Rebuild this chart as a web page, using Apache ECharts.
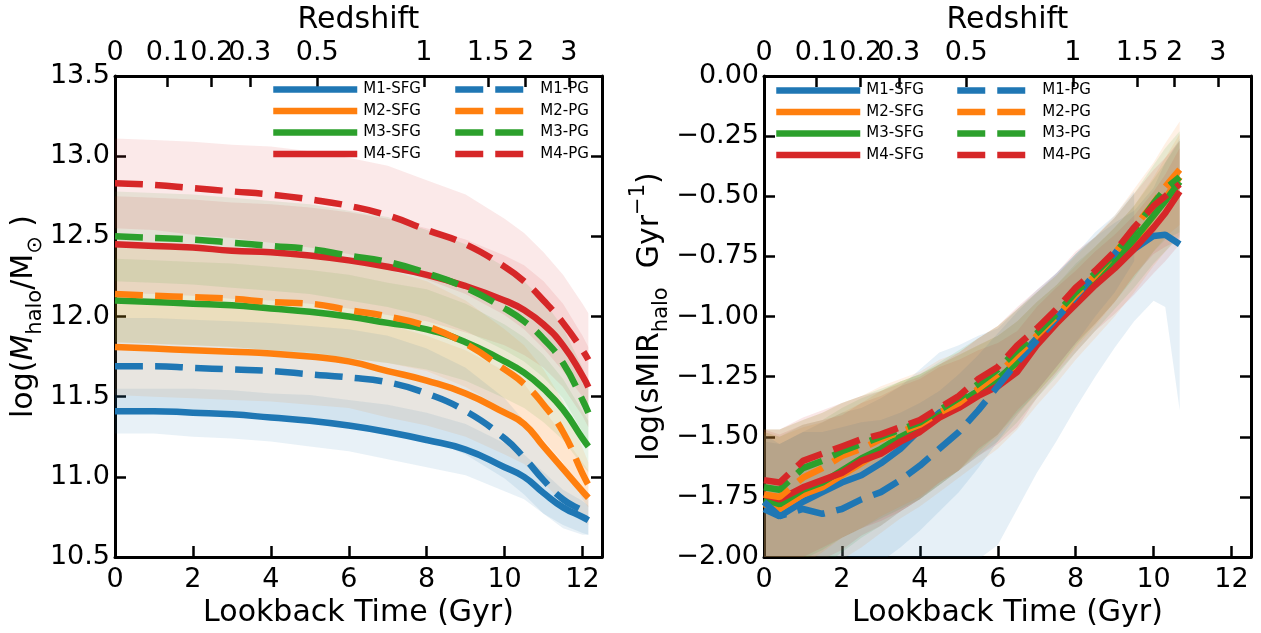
<!DOCTYPE html>
<html>
<head>
<meta charset="utf-8">
<script src="https://cdn.jsdelivr.net/npm/echarts@6/dist/echarts.min.js"></script>
<style>
  html, body { margin: 0; padding: 0; background: #fff; }
  #main { width: 1261px; height: 633px; }
</style>
</head>
<body>
<div id="main"></div>
<script>
// ---- shared labels and axes ----
const COLORS = ['#1f77b4', '#ff7f0e', '#2ca02c', '#d62728'];
const NAMES_SFG = ['M1-SFG', 'M2-SFG', 'M3-SFG', 'M4-SFG'];
const NAMES_PG = ['M1-PG', 'M2-PG', 'M3-PG', 'M4-PG'];

const TIME_TICKS = [0, 2, 4, 6, 8, 10, 12];                 // lookback time (Gyr)
const Z_LABELS = ['0', '0.1', '0.2', '0.3', '0.5', '1', '1.5', '2', '3'];
const Z_TIMES = [0, 1.34, 2.48, 3.46, 5.19, 7.93, 9.58, 10.54, 11.65]; // lookback time of each redshift

// ---- left panel: halo mass history ----
const T_MASS = [0, 1, 2, 3, 4, 5, 6, 7, 8, 9, 10, 10.5, 11, 11.5, 12, 12.15];
const mass_M1_SFG = [11.41, 11.41, 11.40, 11.39, 11.37, 11.35, 11.32, 11.28, 11.23, 11.17, 11.06, 11.00, 10.90, 10.81, 10.75, 10.73];
const mass_M2_SFG = [11.81, 11.80, 11.79, 11.78, 11.77, 11.75, 11.72, 11.66, 11.60, 11.52, 11.40, 11.33, 11.19, 11.05, 10.91, 10.87];
const mass_M3_SFG = [12.10, 12.09, 12.08, 12.07, 12.05, 12.03, 12.00, 11.96, 11.92, 11.84, 11.72, 11.65, 11.55, 11.42, 11.24, 11.19];
const mass_M4_SFG = [12.45, 12.44, 12.43, 12.41, 12.40, 12.38, 12.35, 12.31, 12.26, 12.19, 12.10, 12.04, 11.95, 11.82, 11.63, 11.56];
const mass_M1_PG = [11.69, 11.69, 11.68, 11.67, 11.66, 11.64, 11.62, 11.59, 11.52, 11.41, 11.24, 11.12, 10.98, 10.86, 10.79, 10.77];
const mass_M2_PG = [12.14, 12.13, 12.12, 12.11, 12.09, 12.08, 12.04, 12.00, 11.94, 11.83, 11.67, 11.58, 11.45, 11.28, 11.02, 10.95];
const mass_M3_PG = [12.50, 12.49, 12.48, 12.46, 12.44, 12.42, 12.38, 12.34, 12.27, 12.18, 12.05, 11.97, 11.86, 11.71, 11.48, 11.40];
const mass_M4_PG = [12.83, 12.82, 12.80, 12.78, 12.76, 12.73, 12.69, 12.63, 12.54, 12.45, 12.31, 12.22, 12.10, 11.96, 11.79, 11.73];

// 1-sigma scatter of each mass track
const massErr_M1_SFG = [0.14, 0.14, 0.15, 0.15, 0.15, 0.16, 0.16, 0.17, 0.17, 0.16, 0.15, 0.14, 0.13, 0.11, 0.10, 0.09];
const massErr_M2_SFG = [0.30, 0.30, 0.30, 0.30, 0.30, 0.30, 0.29, 0.29, 0.28, 0.27, 0.26, 0.25, 0.23, 0.21, 0.18, 0.17];
const massErr_M3_SFG = [0.26, 0.26, 0.26, 0.26, 0.26, 0.26, 0.26, 0.25, 0.25, 0.24, 0.23, 0.22, 0.21, 0.19, 0.17, 0.16];
const massErr_M4_SFG = [0.30, 0.30, 0.30, 0.30, 0.30, 0.30, 0.30, 0.30, 0.29, 0.29, 0.28, 0.28, 0.27, 0.26, 0.25, 0.25];
const massErr_M1_PG = [0.30, 0.30, 0.30, 0.30, 0.30, 0.30, 0.30, 0.29, 0.28, 0.27, 0.25, 0.23, 0.21, 0.18, 0.15, 0.13];
const massErr_M2_PG = [0.30, 0.30, 0.30, 0.30, 0.30, 0.30, 0.30, 0.29, 0.28, 0.27, 0.25, 0.24, 0.22, 0.19, 0.16, 0.14];
const massErr_M3_PG = [0.28, 0.28, 0.28, 0.28, 0.28, 0.28, 0.28, 0.28, 0.27, 0.27, 0.26, 0.25, 0.24, 0.22, 0.20, 0.19];
const massErr_M4_PG = [0.28, 0.28, 0.29, 0.29, 0.30, 0.30, 0.30, 0.31, 0.31, 0.31, 0.30, 0.30, 0.30, 0.30, 0.29, 0.29];

// ---- right panel: specific mass increase rate ----
const T_SMIR = [0, 0.4, 1, 1.5, 2, 2.5, 3, 3.5, 4, 4.5, 5, 5.5, 6, 6.5, 7, 7.5, 8, 8.5, 9, 9.5, 10, 10.3, 10.67];
const smir_M1_SFG = [-1.80, -1.83, -1.77, -1.73, -1.69, -1.66, -1.61, -1.55, -1.47, -1.40, -1.36, -1.31, -1.27, -1.18, -1.09, -1.01, -0.92, -0.85, -0.78, -0.72, -0.665, -0.66, -0.70];
const smir_M2_SFG = [-1.78, -1.80, -1.74, -1.71, -1.66, -1.61, -1.56, -1.51, -1.47, -1.42, -1.37, -1.32, -1.27, -1.20, -1.11, -1.03, -0.94, -0.86, -0.78, -0.69, -0.58, -0.51, -0.42];
const smir_M3_SFG = [-1.76, -1.78, -1.72, -1.69, -1.64, -1.59, -1.55, -1.50, -1.46, -1.41, -1.36, -1.31, -1.26, -1.19, -1.10, -1.02, -0.93, -0.85, -0.77, -0.68, -0.58, -0.52, -0.44];
const smir_M4_SFG = [-1.74, -1.76, -1.71, -1.68, -1.65, -1.60, -1.57, -1.52, -1.48, -1.42, -1.38, -1.33, -1.29, -1.23, -1.12, -1.03, -0.95, -0.87, -0.80, -0.72, -0.63, -0.57, -0.48];
const smir_M1_PG = [-1.77, -1.83, -1.80, -1.82, -1.80, -1.76, -1.73, -1.68, -1.62, -1.55, -1.48, -1.39, -1.29, -1.19, -1.10, -1.01, -0.92, -0.82, -0.74, -0.63];
const smir_M2_PG = [-1.74, -1.75, -1.67, -1.63, -1.58, -1.55, -1.51, -1.48, -1.45, -1.40, -1.36, -1.30, -1.24, -1.16, -1.08, -1.00, -0.91, -0.83, -0.74, -0.63, -0.53, -0.46, -0.39];
const smir_M3_PG = [-1.71, -1.72, -1.63, -1.60, -1.56, -1.53, -1.50, -1.47, -1.44, -1.39, -1.34, -1.28, -1.22, -1.14, -1.07, -0.99, -0.90, -0.82, -0.74, -0.64, -0.53, -0.47, -0.42];
const smir_M4_PG = [-1.68, -1.69, -1.60, -1.57, -1.54, -1.51, -1.49, -1.46, -1.43, -1.38, -1.33, -1.26, -1.21, -1.12, -1.05, -0.97, -0.88, -0.81, -0.73, -0.63, -0.54, -0.50, -0.45];

// scatter below each rate track
const smirLo_M1_SFG = [0.40, 0.42, 0.45, 0.50, 0.55, 0.58, 0.60, 0.63, 0.66, 0.69, 0.70, 0.70, 0.68, 0.62, 0.56, 0.51, 0.46, 0.40, 0.35, 0.30, 0.27, 0.30, 0.69];
const smirLo_M2_SFG = [0.38, 0.38, 0.37, 0.36, 0.35, 0.35, 0.34, 0.33, 0.32, 0.31, 0.30, 0.29, 0.28, 0.27, 0.26, 0.25, 0.24, 0.23, 0.22, 0.21, 0.21, 0.22, 0.24];
const smirLo_M3_SFG = [0.36, 0.36, 0.36, 0.35, 0.34, 0.33, 0.32, 0.31, 0.30, 0.29, 0.28, 0.27, 0.26, 0.25, 0.24, 0.23, 0.22, 0.21, 0.20, 0.20, 0.20, 0.21, 0.23];
const smirLo_M4_SFG = [0.35, 0.35, 0.34, 0.33, 0.32, 0.31, 0.30, 0.29, 0.28, 0.27, 0.26, 0.25, 0.24, 0.23, 0.22, 0.21, 0.20, 0.19, 0.19, 0.19, 0.19, 0.20, 0.22];
const smirLo_M1_PG = [0.30, 0.30, 0.30, 0.30, 0.30, 0.29, 0.29, 0.28, 0.27, 0.26, 0.25, 0.24, 0.23, 0.22, 0.21, 0.20, 0.19, 0.18, 0.16, 0.14];
const smirLo_M2_PG = [0.38, 0.38, 0.36, 0.35, 0.34, 0.33, 0.32, 0.31, 0.30, 0.29, 0.28, 0.27, 0.26, 0.25, 0.24, 0.23, 0.22, 0.21, 0.20, 0.20, 0.20, 0.21, 0.23];
const smirLo_M3_PG = [0.40, 0.40, 0.38, 0.37, 0.36, 0.35, 0.34, 0.33, 0.32, 0.31, 0.30, 0.28, 0.27, 0.26, 0.25, 0.24, 0.22, 0.21, 0.20, 0.20, 0.20, 0.21, 0.23];
const smirLo_M4_PG = [0.42, 0.42, 0.40, 0.39, 0.38, 0.37, 0.36, 0.35, 0.33, 0.32, 0.31, 0.29, 0.28, 0.27, 0.26, 0.24, 0.23, 0.22, 0.21, 0.20, 0.20, 0.21, 0.23];

// scatter above each rate track
const smirHi_M1_SFG = [0.28, 0.30, 0.29, 0.29, 0.29, 0.28, 0.27, 0.26, 0.25, 0.25, 0.24, 0.23, 0.22, 0.21, 0.20, 0.19, 0.18, 0.18, 0.17, 0.16, 0.20, 0.30, 0.44];
const smirHi_M2_SFG = [0.30, 0.30, 0.28, 0.27, 0.26, 0.25, 0.25, 0.24, 0.23, 0.22, 0.21, 0.20, 0.19, 0.18, 0.17, 0.16, 0.15, 0.15, 0.15, 0.15, 0.16, 0.17, 0.18];
const smirHi_M3_SFG = [0.28, 0.28, 0.27, 0.26, 0.26, 0.25, 0.24, 0.23, 0.22, 0.21, 0.20, 0.19, 0.18, 0.17, 0.16, 0.15, 0.15, 0.14, 0.14, 0.14, 0.15, 0.16, 0.17];
const smirHi_M4_SFG = [0.27, 0.27, 0.26, 0.25, 0.24, 0.24, 0.24, 0.23, 0.22, 0.21, 0.20, 0.19, 0.18, 0.17, 0.16, 0.15, 0.14, 0.14, 0.14, 0.14, 0.15, 0.16, 0.18];
const smirHi_M1_PG = [0.28, 0.30, 0.32, 0.34, 0.34, 0.32, 0.30, 0.28, 0.26, 0.24, 0.24, 0.23, 0.22, 0.21, 0.20, 0.19, 0.18, 0.17, 0.16, 0.15];
const smirHi_M2_PG = [0.27, 0.28, 0.24, 0.23, 0.22, 0.22, 0.22, 0.22, 0.22, 0.22, 0.21, 0.21, 0.20, 0.19, 0.18, 0.17, 0.16, 0.16, 0.16, 0.16, 0.17, 0.18, 0.20];
const smirHi_M3_PG = [0.24, 0.25, 0.20, 0.20, 0.20, 0.20, 0.20, 0.20, 0.20, 0.20, 0.20, 0.19, 0.18, 0.17, 0.17, 0.16, 0.16, 0.15, 0.15, 0.15, 0.16, 0.17, 0.19];
const smirHi_M4_PG = [0.21, 0.22, 0.18, 0.18, 0.18, 0.18, 0.18, 0.18, 0.18, 0.18, 0.18, 0.17, 0.17, 0.16, 0.16, 0.15, 0.15, 0.14, 0.14, 0.14, 0.15, 0.16, 0.18];

// ---- building blocks ----
const FONT = "'DejaVu Sans', sans-serif";
const DASH = [28, 12];
const LINE_W = 6.5;

function pairs(T, v) { return v.map((y, i) => [T[i], y]); }

// shaded scatter band: one translucent polygon between the lower and upper edges
function band(g, T, mean, lo, hi, color, id, alpha) {
  const rows = mean.map((m, i) => [T[i], m - lo[i], m + hi[i]]);
  return {
    type: 'custom', name: id, xAxisIndex: g * 2, yAxisIndex: g * 2,
    data: rows, encode: { x: 0, y: [1, 2] }, clip: true, silent: true, z: 1,
    renderItem: (params, api) => {
      if (params.dataIndex !== 0) return null;
      const upper = rows.map(r => api.coord([r[0], r[2]]));
      const lower = rows.map(r => api.coord([r[0], r[1]])).reverse();
      return {
        type: 'polygon',
        shape: { points: upper.concat(lower) },
        style: { fill: color, opacity: alpha }
      };
    }
  };
}

function track(g, name, T, v, color, dashed, smooth) {
  return {
    type: 'line', name: name, xAxisIndex: g * 2, yAxisIndex: g * 2,
    data: pairs(T, v), symbol: 'none', smooth: smooth, z: 3,
    lineStyle: { color: color, width: LINE_W, type: dashed ? DASH : 'solid', cap: 'butt' },
    itemStyle: { color: color }
  };
}

const massMeans = [[mass_M1_SFG, mass_M2_SFG, mass_M3_SFG, mass_M4_SFG], [mass_M1_PG, mass_M2_PG, mass_M3_PG, mass_M4_PG]];
const massErrs = [[massErr_M1_SFG, massErr_M2_SFG, massErr_M3_SFG, massErr_M4_SFG], [massErr_M1_PG, massErr_M2_PG, massErr_M3_PG, massErr_M4_PG]];
const smirMeans = [[smir_M1_SFG, smir_M2_SFG, smir_M3_SFG, smir_M4_SFG], [smir_M1_PG, smir_M2_PG, smir_M3_PG, smir_M4_PG]];
const smirLo = [[smirLo_M1_SFG, smirLo_M2_SFG, smirLo_M3_SFG, smirLo_M4_SFG], [smirLo_M1_PG, smirLo_M2_PG, smirLo_M3_PG, smirLo_M4_PG]];
const smirHi = [[smirHi_M1_SFG, smirHi_M2_SFG, smirHi_M3_SFG, smirHi_M4_SFG], [smirHi_M1_PG, smirHi_M2_PG, smirHi_M3_PG, smirHi_M4_PG]];

const series = [];
[NAMES_SFG, NAMES_PG].forEach((names, k) => {
  names.forEach((nm, i) => {
    series.push(band(0, T_MASS, massMeans[k][i], massErrs[k][i], massErrs[k][i], COLORS[i], 'mass-' + nm, 0.1));
    series.push(band(1, T_SMIR, smirMeans[k][i], smirLo[k][i], smirHi[k][i], COLORS[i], 'smir-' + nm, 0.11));
  });
});
[NAMES_SFG, NAMES_PG].forEach((names, k) => {
  names.forEach((nm, i) => {
    series.push(track(0, nm, T_MASS, massMeans[k][i], COLORS[i], k === 1, true));
    const m = smirMeans[k][i];
    series.push(track(1, nm, T_SMIR.slice(0, m.length), m, COLORS[i], k === 1, false));
  });
});

// ---- axes ----
const TICK = { show: true, inside: true, length: 11, lineStyle: { color: '#000', width: 2.5 } };
const AXLINE = { show: true, onZero: false, lineStyle: { color: '#000', width: 3 } };
const LABEL = { color: '#000', fontSize: 27, fontFamily: FONT };

function xAxes(g) {
  return [
    {
      type: 'value', gridIndex: g, position: 'bottom', min: 0, max: 12.5,
      axisLine: AXLINE, splitLine: { show: false },
      axisTick: Object.assign({}, TICK, { customValues: TIME_TICKS }),
      axisLabel: Object.assign({}, LABEL, { margin: 9, customValues: TIME_TICKS, formatter: v => String(v) }),
      name: 'Lookback Time (Gyr)', nameLocation: 'middle', nameGap: 34,
      nameTextStyle: { color: '#000', fontSize: 30, fontFamily: FONT }
    },
    {
      type: 'value', gridIndex: g, position: 'top', min: 0, max: 12.5,
      axisLine: AXLINE, splitLine: { show: false },
      axisTick: Object.assign({}, TICK, { customValues: Z_TIMES }),
      axisLabel: Object.assign({}, LABEL, {
        margin: 9, customValues: Z_TIMES,
        formatter: v => {
          let best = 0;
          Z_TIMES.forEach((t, i) => { if (Math.abs(t - v) < Math.abs(Z_TIMES[best] - v)) best = i; });
          return Z_LABELS[best];
        }
      }),
      name: 'Redshift', nameLocation: 'middle', nameGap: 36,
      nameTextStyle: { color: '#000', fontSize: 30, fontFamily: FONT }
    }
  ];
}

const NAME_RICH = {
  a: { fontSize: 30, fontFamily: FONT, color: '#000', lineHeight: 44 },
  i: { fontSize: 30, fontFamily: FONT, color: '#000', fontStyle: 'italic', lineHeight: 44 },
  s: { fontSize: 21, fontFamily: FONT, color: '#000', lineHeight: 21, verticalAlign: 'bottom' },
  p: { fontSize: 21, fontFamily: FONT, color: '#000', lineHeight: 21, verticalAlign: 'top' }
};

function yAxes(g, min, max, step, digits, name, gap) {
  return [
    {
      type: 'value', gridIndex: g, position: 'left', min: min, max: max, interval: step,
      axisLine: AXLINE, splitLine: { show: false }, axisTick: TICK,
      axisLabel: Object.assign({}, LABEL, { margin: 5, formatter: v => v.toFixed(digits).replace('-', '\u2212') }),
      name: name, nameLocation: 'middle', nameRotate: 90, nameGap: gap,
      nameTextStyle: { rich: NAME_RICH }
    },
    {
      type: 'value', gridIndex: g, position: 'right', min: min, max: max, interval: step,
      axisLine: AXLINE, splitLine: { show: false }, axisTick: TICK,
      axisLabel: { show: false }
    }
  ];
}

// ---- legends: two columns per panel ----
function legend(names, left, top, dashed) {
  return {
    data: names, orient: 'vertical', left: left, top: top, padding: 0,
    itemWidth: dashed ? 68 : 84, itemHeight: 16, itemGap: 6.5,
    selectedMode: false,
    itemStyle: { opacity: 0 },
    lineStyle: { width: LINE_W },
    textStyle: { color: '#000', fontSize: 15, fontFamily: FONT, padding: [0, 0, 0, dashed ? 12 : 1] }
  };
}

const option = {
  animation: false,
  backgroundColor: '#fff',
  grid: [
    { left: 115, top: 67, width: 487, height: 497 },
    { left: 764, top: 67, width: 487, height: 497 }
  ],
  xAxis: [...xAxes(0), ...xAxes(1)],
  yAxis: [
    ...yAxes(0, 10.5, 13.5, 0.5, 1, '{a|log(}{i|M}{s|halo}{a|/M}{s|\u2299}{a| )}', 59),
    ...yAxes(1, -2, 0, 0.25, 2, '{a|log(sMIR}{s|halo}{a|  Gyr}{p|\u22121}{a|)}', 68)
  ],
  legend: [
    legend(NAMES_SFG, 270, 82, false),
    legend(NAMES_PG, 452, 82, true),
    legend(NAMES_SFG, 773, 83, false),
    legend(NAMES_PG, 954, 83, true)
  ],
  series: series
};

const chart = echarts.init(document.getElementById('main'), null, { renderer: 'canvas' });
chart.setOption(option);
</script>
</body>
</html>
